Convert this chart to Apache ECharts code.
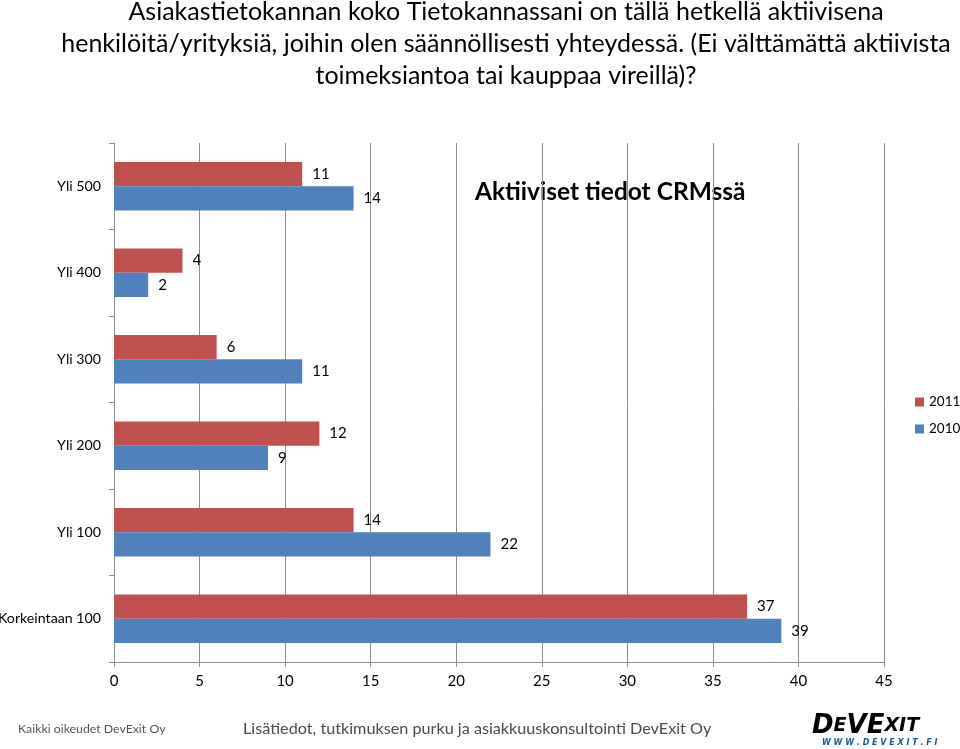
<!DOCTYPE html>
<html>
<head>
<meta charset="utf-8">
<script src="https://cdn.jsdelivr.net/npm/echarts@6/dist/echarts.min.js"></script>
<style>html,body{margin:0;padding:0;background:#fff}#c{width:960px;height:749px}</style>
</head>
<body>
<div id="c"></div>
<script>
const categories = ['Korkeintaan 100', 'Yli 100', 'Yli 200', 'Yli 300', 'Yli 400', 'Yli 500'];
const values2011 = [37, 14, 12, 6, 4, 11];
const values2010 = [39, 22, 9, 11, 2, 14];
const xTicks = { min: 0, max: 45, interval: 5 };
const titleText = 'Asiakastietokannan koko Tietokannassani on tällä hetkellä aktiivisena\nhenkilöitä/yrityksiä, joihin olen säännöllisesti yhteydessä. (Ei välttämättä aktiivista\ntoimeksiantoa tai kauppaa vireillä)?';
const innerTitle = 'Aktiiviset tiedot CRMssä';
const FONT = 'Lato';

const chart = echarts.init(document.getElementById('c'), null, {renderer: 'canvas'});
const labelStyle = {show: true, position: 'right', distance: 10, color: '#000', fontFamily: FONT, fontSize: 15};
chart.setOption({
  animation: false,
  backgroundColor: '#fff',
  title: {
    text: titleText, left: 501, top: -9, textAlign: 'center',
    textStyle: {fontFamily: FONT, fontSize: 25, fontWeight: 'normal', color: '#000', lineHeight: 32}
  },
  legend: {
    orient: 'vertical', left: 915, top: 395, padding: 0, itemWidth: 9, itemHeight: 9, itemGap: 13,
    data: ['2011', '2010'],
    textStyle: {fontFamily: FONT, fontSize: 13.5, color: '#000'},
    icon: 'rect'
  },
  grid: {left: 114, right: 76, top: 143, bottom: 87, containLabel: false, outerBoundsMode: 'none'},
  xAxis: {
    type: 'value', min: xTicks.min, max: xTicks.max, interval: xTicks.interval,
    axisLine: {show: true, lineStyle: {color: '#8c8c8c'}},
    axisTick: {show: true, length: 5, lineStyle: {color: '#8c8c8c'}},
    splitLine: {show: true, lineStyle: {color: '#8c8c8c', width: 1}},
    axisLabel: {fontFamily: FONT, fontSize: 15, color: '#000', margin: 12}
  },
  yAxis: {
    type: 'category', data: categories,
    axisLine: {show: true, lineStyle: {color: '#8c8c8c'}},
    axisTick: {show: true, length: 5, lineStyle: {color: '#8c8c8c'}},
    axisLabel: {fontFamily: FONT, fontSize: 14.2, color: '#000', margin: 13}
  },
  graphic: [
    {type: 'text', left: 475, top: 180, style: {text: innerTitle, fontFamily: FONT, fontSize: 24.5, fontWeight: 'bold', fill: '#000'}},
    {type: 'text', left: 18, top: 723, style: {text: 'Kaikki oikeudet DevExit Oy', fontFamily: FONT, fontSize: 12.3, fill: '#555'}},
    {type: 'text', left: 243, top: 721, style: {text: 'Lisätiedot, tutkimuksen purku ja asiakkuuskonsultointi DevExit Oy', fontFamily: FONT, fontSize: 16.2, fill: '#4a4a4a'}},
    {type: 'text', left: 812, top: 713, style: {
      rich: {
        a: {fontFamily: 'DejaVu Sans', fontSize: 26, fontWeight: 'bold', fontStyle: 'italic', color: '#111'},
        b: {fontFamily: 'DejaVu Sans', fontSize: 19, fontWeight: 'bold', fontStyle: 'italic', color: '#111'},
        v: {fontFamily: 'DejaVu Sans', fontSize: 26, fontWeight: 'bold', fontStyle: 'italic', color: '#1d5a8a'}
      },
      text: '{a|D}{b|E}{v|V}{a|E}{b|XIT}'
    }},
    {type: 'text', left: 822, top: 739, style: {text: 'W W W . D E V E X I T . F I', fontFamily: 'DejaVu Sans', fontSize: 8, fontWeight: 'bold', fontStyle: 'italic', fill: '#1d5a8a'}}
  ],
  series: [
    {name: '2011', type: 'bar', data: values2011, itemStyle: {color: '#C0504D'}, barGap: '0%', barCategoryGap: '44%', label: labelStyle},
    {name: '2010', type: 'bar', data: values2010, itemStyle: {color: '#4F81BD'}, barGap: '0%', barCategoryGap: '44%', label: labelStyle}
  ]
});
</script>
</body>
</html>
